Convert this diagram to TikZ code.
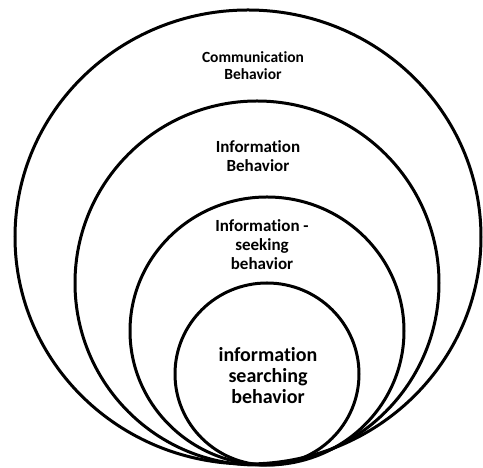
\documentclass[tikz,border=0pt]{standalone}
\usepackage{fontspec}
\setmainfont{Carlito}[Ligatures=NoCommon]

\tikzset{
  ring/.style={line width=3pt},
  lbl/.style={align=center, inner sep=0pt}
}

\begin{document}
\begin{tikzpicture}[x=1pt, y=1pt]
    \useasboundingbox (0, 0) rectangle (483, 468);
    \draw[ring] (248, 231) ellipse [x radius=233, y radius=227];
    \draw[ring] (257, 185) ellipse [x radius=182, y radius=182];
    \draw[ring] (267, 137) ellipse [x radius=137, y radius=134];
    \draw[ring] (267, 94) ellipse [x radius=92, y radius=91];
    \node[lbl, font=\bfseries\fontsize{15.5}{17}\selectfont] (comm) at (253, 402) {Communication\\Behavior};
    \node[lbl, font=\bfseries\fontsize{17}{19}\selectfont] (info) at (258, 312) {Information\\Behavior};
    \node[lbl, font=\bfseries\fontsize{17}{19}\selectfont] (seek) at (262, 223) {Information -\\seeking\\behavior};
    \node[lbl, font=\bfseries\fontsize{20}{21}\selectfont] (search) at (268, 92) {information\\searching\\behavior};
  \end{tikzpicture}
\end{document}
